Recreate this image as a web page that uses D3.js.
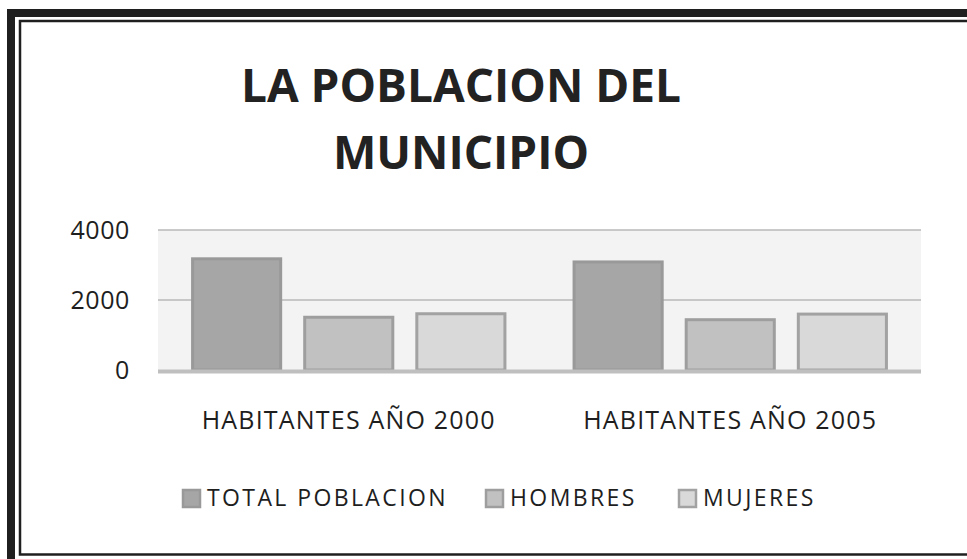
<!DOCTYPE html>
<html>
<head>
<meta charset="utf-8">
<script src="https://cdn.jsdelivr.net/npm/d3@7"></script>
<style>
  body { margin: 0; background: #fff; }
  text { font-family: "Open Sans", "Noto Sans", sans-serif; fill: #1e1e1e; }
</style>
</head>
<body>
<div id="chart"></div>
<script>
const categories = ["HABITANTES AÑO 2000", "HABITANTES AÑO 2005"];
const seriesNames = ["TOTAL POBLACION", "HOMBRES", "MUJERES"];
const totalPoblacion = [3220, 3130];
const hombres = [1550, 1480];
const mujeres = [1650, 1640];
const yTicks = [0, 2000, 4000];

const seriesValues = [totalPoblacion, hombres, mujeres];
const fills = ["#a6a6a6", "#c1c1c1", "#d9d9d9"];
const edges = ["#999999", "#9e9e9e", "#a2a2a2"];

const width = 967, height = 559;
const plot = { left: 158, right: 921, top: 230, bottom: 370 };

const svg = d3.select("#chart").append("svg")
  .attr("width", width)
  .attr("height", height);

// double frame
svg.append("rect")
  .attr("x", 11).attr("y", 13)
  .attr("width", 980).attr("height", 580)
  .attr("fill", "none").attr("stroke", "#1f1f1f").attr("stroke-width", 8);
svg.append("rect")
  .attr("x", 20).attr("y", 21)
  .attr("width", 980).attr("height", 533.5)
  .attr("fill", "none").attr("stroke", "#1f1f1f").attr("stroke-width", 2.5);

// title
const title = svg.append("text")
  .attr("text-anchor", "middle")
  .attr("font-size", 46)
  .attr("font-weight", "bold")
  .style("fill", "#222");
title.append("tspan").attr("x", 461).attr("y", 102).text("LA POBLACION DEL");
title.append("tspan").attr("x", 461).attr("y", 169).text("MUNICIPIO");

const x0 = d3.scaleBand()
  .domain(categories)
  .range([plot.left, plot.right]);

const x1 = d3.scaleBand()
  .domain(seriesNames)
  .range([0, x0.bandwidth()])
  .paddingInner(0.1875)
  .paddingOuter(0.295);

const y = d3.scaleLinear()
  .domain([0, 4000])
  .range([plot.bottom, plot.top]);

// plot background
svg.append("rect")
  .attr("x", plot.left).attr("y", y(4000))
  .attr("width", plot.right - plot.left)
  .attr("height", y(0) - y(4000))
  .attr("fill", "#f3f3f3");

// gridlines
svg.append("g")
  .selectAll("line")
  .data(yTicks.filter(d => d > 0))
  .join("line")
    .attr("x1", plot.left).attr("x2", plot.right)
    .attr("y1", d => y(d)).attr("y2", d => y(d))
    .attr("stroke", "#b9b9b9").attr("stroke-width", 1.3);

// y labels
const yAxis = svg.append("g")
  .attr("transform", `translate(${plot.left - 28},0)`)
  .call(d3.axisLeft(y).tickValues(yTicks).tickFormat(d3.format("d")).tickSize(0).tickPadding(0));
yAxis.select(".domain").remove();
yAxis.selectAll("text")
  .attr("font-size", 25)
  .attr("font-family", "Open Sans, Noto Sans, sans-serif")
  .attr("letter-spacing", 0.6)
  .attr("fill", "#1e1e1e");

// bars
const rows = [];
categories.forEach((c, i) => {
  seriesNames.forEach((s, j) => {
    rows.push({ cat: c, series: s, j: j, value: seriesValues[j][i] });
  });
});

svg.append("g")
  .selectAll("rect")
  .data(rows)
  .join("rect")
    .attr("x", d => x0(d.cat) + x1(d.series) + 1.5)
    .attr("y", d => y(d.value) + 1.5)
    .attr("width", x1.bandwidth() - 3)
    .attr("height", d => y(0) - y(d.value) - 1.5)
    .attr("fill", d => fills[d.j])
    .attr("stroke", d => edges[d.j])
    .attr("stroke-width", 3);

// x axis line
svg.append("line")
  .attr("x1", plot.left).attr("x2", plot.right)
  .attr("y1", y(0) + 1.5).attr("y2", y(0) + 1.5)
  .attr("stroke", "#bfbfbf").attr("stroke-width", 4);

// category labels
const xAxis = svg.append("g")
  .attr("transform", `translate(0,${y(0)})`)
  .call(d3.axisBottom(x0).tickSize(0).tickPadding(0));
xAxis.select(".domain").remove();
xAxis.selectAll("text")
  .attr("dy", null)
  .attr("y", 59)
  .attr("font-size", 25)
  .attr("letter-spacing", 1.2)
  .attr("font-family", "Open Sans, Noto Sans, sans-serif")
  .attr("fill", "#1e1e1e");

// legend
const legendX = [182, 485, 678];
const legend = svg.append("g")
  .selectAll("g")
  .data(seriesNames)
  .join("g")
    .attr("transform", (d, i) => `translate(${legendX[i]},489)`);
legend.append("rect")
  .attr("x", 1).attr("y", 1)
  .attr("width", 17).attr("height", 17)
  .attr("fill", (d, i) => fills[i])
  .attr("stroke", (d, i) => edges[i])
  .attr("stroke-width", 2.5);
legend.append("text")
  .attr("x", 25).attr("y", 17)
  .attr("font-size", 23)
  .attr("letter-spacing", 2.4)
  .text(d => d);
</script>
</body>
</html>
